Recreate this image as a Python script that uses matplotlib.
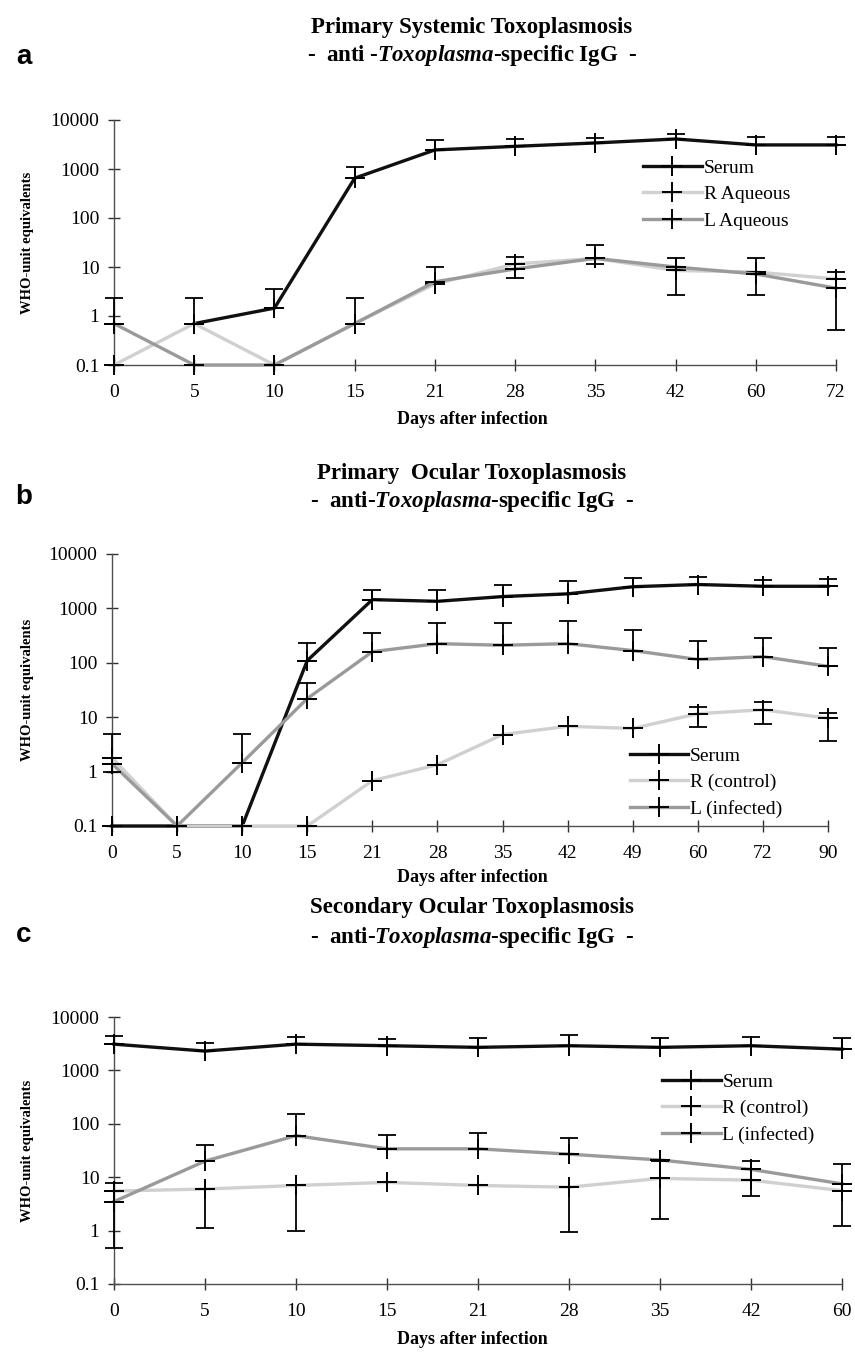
import numpy as np
import matplotlib
matplotlib.use('Agg')
import matplotlib.pyplot as plt

plt.rcParams['font.family'] = ['Liberation Serif', 'DejaVu Serif']
plt.rcParams['mathtext.fontset'] = 'custom'
plt.rcParams['mathtext.it'] = 'Liberation Serif:bold:italic'
plt.rcParams['mathtext.rm'] = 'Liberation Serif:bold'

nan = np.nan

# panel a - primary systemic
a_days = ['0', '5', '10', '15', '21', '28', '35', '42', '60', '72']
a_serum = [nan, 0.7, 1.45, 650, 2450, 2900, 3400, 4100, 3100, 3100]
a_serum_hi = [nan, nan, 3.6, 1100, 3900, 4100, 4300, 5300, 4500, 4500]
a_serum_lo = [nan] * 10
a_r = [0.1, 0.7, 0.1, 0.7, 4.5, 11.5, 15, 8.5, 7.9, 5.7]
a_r_hi = [nan, 2.3, nan, nan, nan, 16, 28, nan, nan, 7.9]
a_r_lo = [nan] * 10
a_l = [0.7, 0.1, 0.1, 0.7, 5.0, 9.1, 15, 10, 7.2, 3.7]
a_l_hi = [2.3, nan, nan, 2.3, 10, nan, nan, 15, 15, nan]
a_l_lo = [nan, nan, nan, nan, nan, 6.0, 11.5, 2.7, 2.7, 0.52]

# panel b - primary ocular
b_days = ['0', '5', '10', '15', '21', '28', '35', '42', '49', '60', '72', '90']
b_serum = [0.1, 0.1, 0.1, 110, 1450, 1350, 1650, 1850, 2500, 2750, 2550, 2550]
b_serum_hi = [nan, nan, nan, 235, 2200, 2200, 2700, 3200, 3600, 3800, 3300, 3400]
b_serum_lo = [nan] * 12
b_r = [1.8, 0.1, 0.1, 0.1, 0.68, 1.34, 4.8, 6.8, 6.2, 11.6, 13.7, 9.6]
b_r_hi = [nan] * 9 + [15.5, 19, 12]
b_r_lo = [1.0] + [nan] * 8 + [6.7, 7.6, 3.7]
b_l = [1.4, 0.1, 1.46, 22, 160, 225, 210, 225, 168, 115, 130, 86]
b_l_hi = [5.0, nan, 5.0, 42, 360, 540, 540, 590, 400, 255, 280, 190]
b_l_lo = [nan] * 12

# panel c - secondary ocular
c_days = ['0', '5', '10', '15', '21', '28', '35', '42', '60']
c_serum = [3100, 2300, 3100, 2900, 2700, 2900, 2700, 2900, 2500]
c_serum_hi = [4500, 3300, 4200, 3900, 4000, 4600, 4000, 4300, 4000]
c_serum_lo = [nan] * 9
c_r = [5.5, 6.0, 7.0, 8.0, 7.0, 6.5, 9.5, 8.8, 5.6]
c_r_hi = [nan, nan, nan, nan, nan, nan, 20, nan, nan]
c_r_lo = [0.48, 1.1, 1.0, nan, nan, 0.95, 1.65, 4.5, 1.2]
c_l = [3.5, 20, 60, 34, 34, 27, 21, 14, 7.5]
c_l_hi = [7.9, 40, 150, 62, 66, 54, nan, 20, 18]
c_l_lo = [nan] * 9

labels_a = ['Serum', 'R Aqueous', 'L Aqueous']
labels_bc = ['Serum', 'R (control)', 'L (infected)']
colors = ['#101010', '#d0d0d0', '#9a9a9a']

W, H = 855, 1353


def box(left, right, top, bottom):
    return [left / W, 1 - bottom / H, (right - left) / W, (bottom - top) / H]


def draw_panel(ax, days, vals, his, los, labels, leg_xy):
    x = np.arange(len(days))
    for v, c, lab in zip(vals, colors, labels):
        ax.plot(x, v, color=c, lw=2.4, marker='+', ms=14, mew=1.4,
                mec='k', label=lab, clip_on=False, zorder=3)
    for v, hi, lo in zip(vals, his, los):
        v = np.array(v, float)
        hi = np.array(hi, float)
        lo = np.array(lo, float)
        m = ~np.isnan(hi) | ~np.isnan(lo)
        up = np.where(np.isnan(hi), 0, hi - v)[m]
        dn = np.where(np.isnan(lo), 0, v - lo)[m]
        ax.errorbar(x[m], v[m], yerr=[dn, up], fmt='none', ecolor='k',
                    elinewidth=1.3, capsize=6.5, capthick=1.3,
                    clip_on=False, zorder=4)
    ax.set_yscale('log')
    ax.set_ylim(0.1, 10000)
    ax.set_xlim(0, len(days) - 1)
    ax.set_yticks([0.1, 1, 10, 100, 1000, 10000])
    ax.set_yticklabels(['0.1', '1', '10', '100', '1000', '10000'])
    ax.minorticks_off()
    ax.set_xticks(x)
    ax.set_xticklabels(days)
    for s in ['top', 'right']:
        ax.spines[s].set_visible(False)
    for s in ['left', 'bottom']:
        ax.spines[s].set_color('#505050')
        ax.spines[s].set_linewidth(1.0)
    ax.tick_params(axis='both', direction='inout', length=9, width=1.0,
                   color='#303030', labelsize=14, pad=6)
    ax.tick_params(axis='x', pad=9)
    ax.legend(loc='upper left', bbox_to_anchor=leg_xy, frameon=False,
              fontsize=14, handlelength=3.0, handletextpad=0.1,
              labelspacing=0.45, borderpad=0, borderaxespad=0, numpoints=1)


fig = plt.figure(figsize=(8.55, 13.53), dpi=100)

panels = [
    (box(114, 836, 120, 365), a_days, [a_serum, a_r, a_l],
     [a_serum_hi, a_r_hi, a_l_hi], [a_serum_lo, a_r_lo, a_l_lo], labels_a,
     (0.733, 0.84), 'Primary Systemic Toxoplasmosis',
     r'-  anti -$\mathit{Toxoplasma}$-specific IgG  -', 'a', 28, 56, 57, 420),
    (box(112, 828, 554, 826), b_days, [b_serum, b_r, b_l],
     [b_serum_hi, b_r_hi, b_l_hi], [b_serum_lo, b_r_lo, b_l_lo], labels_bc,
     (0.723, 0.29), 'Primary  Ocular Toxoplasmosis',
     r'-  anti-$\mathit{Toxoplasma}$-specific IgG  -', 'b', 473, 501, 497, 877),
    (box(114, 842, 1017, 1284), c_days, [c_serum, c_r, c_l],
     [c_serum_hi, c_r_hi, c_l_hi], [c_serum_lo, c_r_lo, c_l_lo], labels_bc,
     (0.753, 0.79), 'Secondary Ocular Toxoplasmosis',
     r'-  anti-$\mathit{Toxoplasma}$-specific IgG  -', 'c', 908, 938, 935, 1340),
]

for rect, days, vals, his, los, labs, leg, t1, t2, letter, y1, y2, yl, yx in panels:
    ax = fig.add_axes(rect)
    draw_panel(ax, days, vals, his, los, labs, leg)
    fig.text(472 / W, 1 - y1 / H, t1, ha='center', va='center',
             fontsize=16.5, fontweight='bold')
    fig.text(472 / W, 1 - y2 / H, t2, ha='center', va='center',
             fontsize=16.5, fontweight='bold')
    fig.text(24 / W, 1 - yl / H, letter, ha='center', va='center',
             fontsize=20, fontweight='bold', family='Liberation Sans')
    fig.text(472 / W, 1 - yx / H, 'Days after infection', ha='center',
             va='center', fontsize=13, fontweight='bold')
    ymid = rect[1] + rect[3] / 2
    fig.text(27 / W, ymid, 'WHO-unit equivalents', ha='center', va='center',
             rotation=90, fontsize=10.5, fontweight='bold')

fig.savefig('out.png', dpi=100)
